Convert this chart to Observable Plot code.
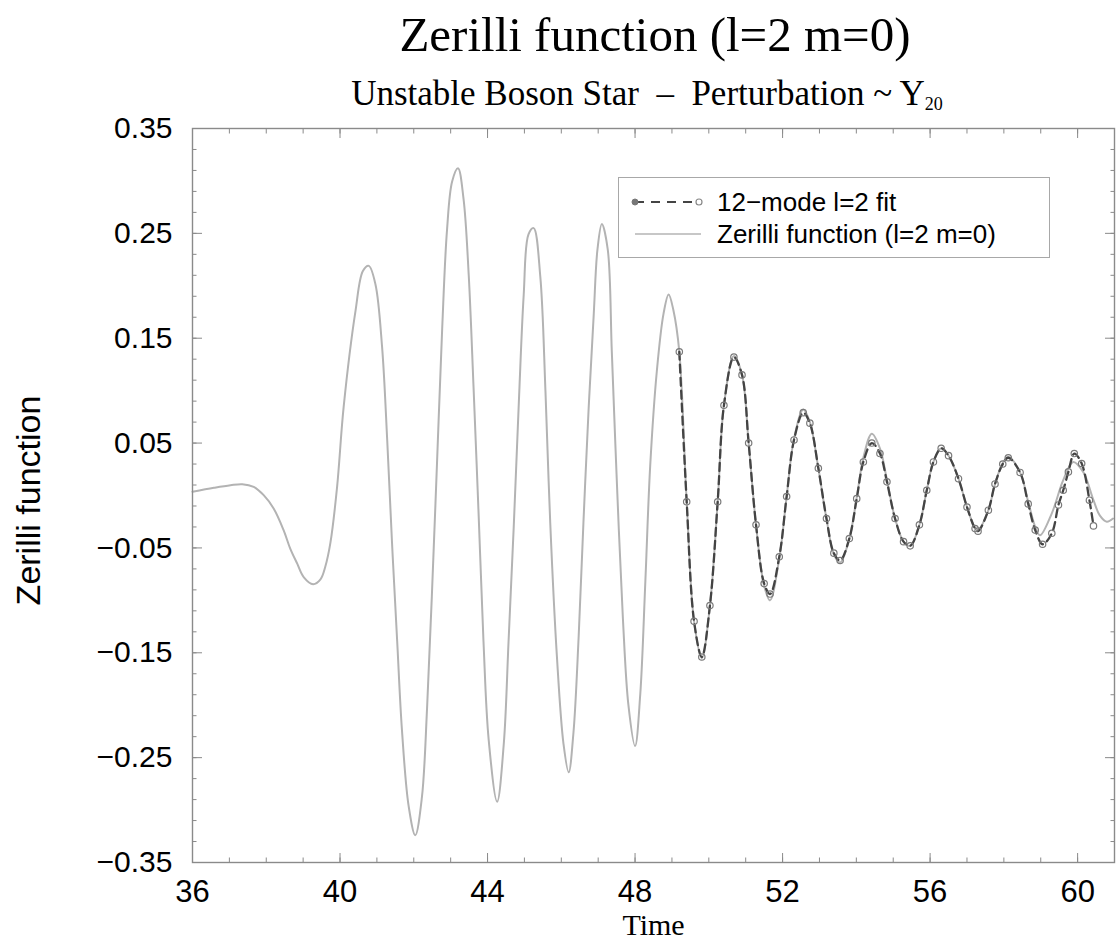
<!DOCTYPE html>
<html>
<head>
<meta charset="utf-8">
<script src="https://cdn.jsdelivr.net/npm/d3@7"></script>
<script src="https://cdn.jsdelivr.net/npm/@observablehq/plot@0.6"></script>
<style>
  body { margin: 0; background: #fff; }
  #wrap { position: relative; width: 1118px; height: 944px; overflow: hidden; }
  #head { position: relative; width: 1118px; height: 126px; }
  .serif { font-family: "Liberation Serif", "Times New Roman", Times, serif; color: #000; white-space: nowrap; }
  #title { position: absolute; left: 0; width: 1310px; text-align: center; top: 10px; font-size: 49px; line-height: 49px; }
  #subtitle { position: absolute; left: 0; width: 1294px; text-align: center; top: 76px; font-size: 35px; line-height: 35px; }
  #subtitle sub { font-size: 18px; vertical-align: -5px; line-height: 0; }
  #legend { position: absolute; left: 618px; top: 177px; width: 432px; height: 81px; border: 1.3px solid #a8a8a8; background: #fff; box-sizing: border-box; }
  #legend svg { position: absolute; left: 0; top: 0; }
  .legtxt { position: absolute; left: 98px; font-family: "Liberation Sans", Arial, Helvetica, sans-serif; font-size: 26px; line-height: 26px; color: #000; white-space: nowrap; }
</style>
</head>
<body>
<div id="wrap">
  <div id="head">
    <div id="title" class="serif">Zerilli function (l=2 m=0)</div>
    <div id="subtitle" class="serif">Unstable Boson Star &nbsp;–&nbsp; Perturbation ~ Y<sub>20</sub></div>
  </div>
  <div id="chart"></div>
  <div id="legend">
    <svg width="100" height="80">
      <line x1="16" y1="24" x2="80" y2="24" stroke="#444" stroke-width="2.2" stroke-dasharray="9,7"/>
      <circle cx="16" cy="24" r="3" fill="#777" stroke="#777"/>
      <circle cx="80" cy="24" r="3" fill="#fff" stroke="#888" stroke-width="1.2"/>
      <line x1="16" y1="56" x2="82" y2="56" stroke="#b5b5b5" stroke-width="1.6"/>
    </svg>
    <div class="legtxt" style="top:11px">12−mode l=2 fit</div>
    <div class="legtxt" style="top:43px">Zerilli function (l=2 m=0)</div>
  </div>
</div>
<script>
// ---- Zerilli function (gray solid) ----
const zerTime = [
  36.0, 36.58, 37.03, 37.35, 37.66, 37.93, 38.2, 38.47, 38.65, 38.84, 39.02, 39.27, 39.47, 39.6, 39.74, 39.92,
  40.1, 40.42, 40.62, 40.78, 40.96, 41.14, 41.28, 41.41, 41.55, 41.68, 41.86, 42.04, 42.22, 42.36, 42.49, 42.63,
  42.77, 42.9, 43.04, 43.2, 43.35, 43.49, 43.62, 43.76, 43.89, 44.03, 44.26, 44.44, 44.57, 44.71, 44.85, 44.98,
  45.11, 45.25, 45.43, 45.57, 45.7, 45.88, 46.06, 46.2, 46.33, 46.47, 46.6, 46.74, 46.88, 46.98, 47.1, 47.26,
  47.37, 47.51, 47.67, 47.82, 48.0, 48.14, 48.28, 48.41, 48.59, 48.77, 48.91, 49.04, 49.2, 49.4, 49.6, 49.81,
  50.03, 50.24, 50.41, 50.68, 50.9, 51.08, 51.28, 51.5, 51.66, 51.91, 52.11, 52.31, 52.56, 52.74, 52.97, 53.19,
  53.39, 53.56, 53.81, 54.01, 54.19, 54.42, 54.64, 54.83, 55.05, 55.28, 55.46, 55.71, 55.91, 56.09, 56.3, 56.5,
  56.77, 57.0, 57.22, 57.3, 57.58, 57.76, 57.97, 58.12, 58.44, 58.66, 58.85, 58.98, 59.3, 59.61, 59.88, 60.15,
  60.43, 60.6, 60.79, 60.96
];
const zerValue = [
  0.0035, 0.0073, 0.0098, 0.0108, 0.0082, 0.0003, -0.0124, -0.033, -0.0506, -0.065, -0.078, -0.0846, -0.08, -0.068, -0.045, 0.008,
  0.085, 0.176, 0.214, 0.219, 0.2015, 0.142, 0.0525, -0.045, -0.139, -0.224, -0.296, -0.324, -0.288, -0.203, -0.096, 0.031,
  0.159, 0.2526, 0.2995, 0.312, 0.2826, 0.21, 0.1037, -0.0197, -0.139, -0.2325, -0.292, -0.237, -0.139, -0.03, 0.09, 0.191,
  0.249, 0.255, 0.209, 0.1, -0.026, -0.153, -0.237, -0.264, -0.226, -0.135, -0.026, 0.082, 0.173, 0.2345, 0.259, 0.2345,
  0.137, 0.0098, -0.117, -0.2, -0.239, -0.19, -0.081, 0.028, 0.1185, 0.173, 0.1917, 0.1767, 0.137, -0.006, -0.12, -0.155,
  -0.105, -0.006, 0.086, 0.133, 0.115, 0.05, -0.028, -0.086, -0.1, -0.06, -0.001, 0.054, 0.082, 0.07, 0.026, -0.022,
  -0.056, -0.064, -0.041, -0.002, 0.036, 0.059, 0.045, 0.015, -0.022, -0.044, -0.048, -0.028, 0.005, 0.032, 0.045, 0.038,
  0.016, -0.011, -0.031, -0.033, -0.014, 0.011, 0.031, 0.037, 0.022, -0.006, -0.03, -0.038, -0.017, 0.0146, 0.032, 0.0225,
  -0.0045, -0.019, -0.025, -0.022
];

// ---- 12-mode l=2 fit (dark dashed with open circles) ----
const fitTime = [
  49.2, 49.4, 49.6, 49.81, 50.03, 50.24, 50.41, 50.68, 50.9, 51.08, 51.28, 51.5, 51.66, 51.91, 52.11, 52.31,
  52.56, 52.74, 52.97, 53.19, 53.39, 53.56, 53.81, 54.01, 54.19, 54.42, 54.64, 54.83, 55.05, 55.28, 55.46, 55.71,
  55.91, 56.09, 56.3, 56.5, 56.77, 57.0, 57.22, 57.3, 57.58, 57.76, 57.97, 58.12, 58.44, 58.66, 58.85, 59.05,
  59.3, 59.48, 59.61, 59.75, 59.91, 60.11, 60.32, 60.43
];
const fitValue = [
  0.137, -0.006, -0.12, -0.154, -0.105, -0.006, 0.086, 0.132, 0.115, 0.05, -0.028, -0.084, -0.094, -0.0585, -0.001, 0.053,
  0.079, 0.069, 0.026, -0.022, -0.055, -0.062, -0.041, -0.003, 0.032, 0.05, 0.04, 0.013, -0.022, -0.044, -0.048, -0.028,
  0.005, 0.032, 0.045, 0.038, 0.016, -0.011, -0.0315, -0.034, -0.014, 0.011, 0.03, 0.036, 0.022, -0.008, -0.033, -0.0465,
  -0.036, -0.009, 0.005, 0.0225, 0.04, 0.0305, -0.0045, -0.029
];

// ---- axes ----
const xMajorTicks = [36, 40, 44, 48, 52, 56, 60];
const xMinorTicks = d3.range(36, 61.001, 1);
const yMajorTicks = [0.35, 0.25, 0.15, 0.05, -0.05, -0.15, -0.25, -0.35];
const yMinorTicks = d3.range(-0.35, 0.3501, 0.02);
const yAxisLabel = "Zerilli function";
const xAxisLabel = "Time";

const zer = zerTime.map((t, i) => ({t, v: zerValue[i]}));
const fit = fitTime.map((t, i) => ({t, v: fitValue[i]}));

const axisColor = "#8a8a8a";
const noText = () => "";
const fmtY = d3.format(".2f");

const plot = Plot.plot({
  width: 1118,
  height: 818,
  marginTop: 2,
  marginBottom: 82,
  marginLeft: 192,
  marginRight: 4,
  style: {fontFamily: "'Liberation Sans', Arial, Helvetica, sans-serif", background: "white", color: "black", overflow: "visible"},
  x: {domain: [36, 61], label: null},
  y: {domain: [-0.35, 0.35], label: null},
  marks: [
    Plot.line(zer, {x: "t", y: "v", stroke: "#b3b3b3", strokeWidth: 2, curve: "catmull-rom"}),
    Plot.line(fit, {x: "t", y: "v", stroke: "#444", strokeWidth: 2.3, strokeDasharray: "8,5", curve: "catmull-rom"}),
    Plot.dot(fit, {x: "t", y: "v", r: 3.2, stroke: "#7a7a7a", strokeWidth: 1.2, fill: "none"}),
    Plot.frame({stroke: axisColor, strokeWidth: 1.4}),
    // bottom
    Plot.axisX(xMajorTicks, {anchor: "bottom", tickSize: -9, tickPadding: 26, fontSize: 31, stroke: axisColor, label: null}),
    Plot.axisX(xMinorTicks, {anchor: "bottom", tickSize: -4.5, tickFormat: noText, stroke: axisColor, label: null}),
    // top
    Plot.axisX(xMajorTicks, {anchor: "top", tickSize: -9, tickFormat: noText, stroke: axisColor, label: null}),
    Plot.axisX(xMinorTicks, {anchor: "top", tickSize: -4.5, tickFormat: noText, stroke: axisColor, label: null}),
    // left
    Plot.axisY(yMajorTicks, {anchor: "left", tickSize: -10, tickPadding: 30, fontSize: 30, tickFormat: fmtY, stroke: axisColor, label: null}),
    Plot.axisY(yMinorTicks, {anchor: "left", tickSize: -4.5, tickFormat: noText, stroke: axisColor, label: null}),
    // right
    Plot.axisY(yMajorTicks, {anchor: "right", tickSize: -10, tickFormat: noText, stroke: axisColor, label: null}),
    Plot.axisY(yMinorTicks, {anchor: "right", tickSize: -4.5, tickFormat: noText, stroke: axisColor, label: null}),
    // axis titles
    Plot.text([yAxisLabel], {text: d => d, frameAnchor: "left", textAnchor: "middle", lineAnchor: "middle", rotate: -90, dx: -163, dy: 5, fontSize: 34, fill: "black"}),
    Plot.text([xAxisLabel], {text: d => d, frameAnchor: "bottom", textAnchor: "middle", lineAnchor: "middle", dy: 63, fontSize: 30, fill: "black", fontFamily: "'Liberation Serif', 'Times New Roman', serif"})
  ]
});
document.getElementById("chart").appendChild(plot);
</script>
</body>
</html>
